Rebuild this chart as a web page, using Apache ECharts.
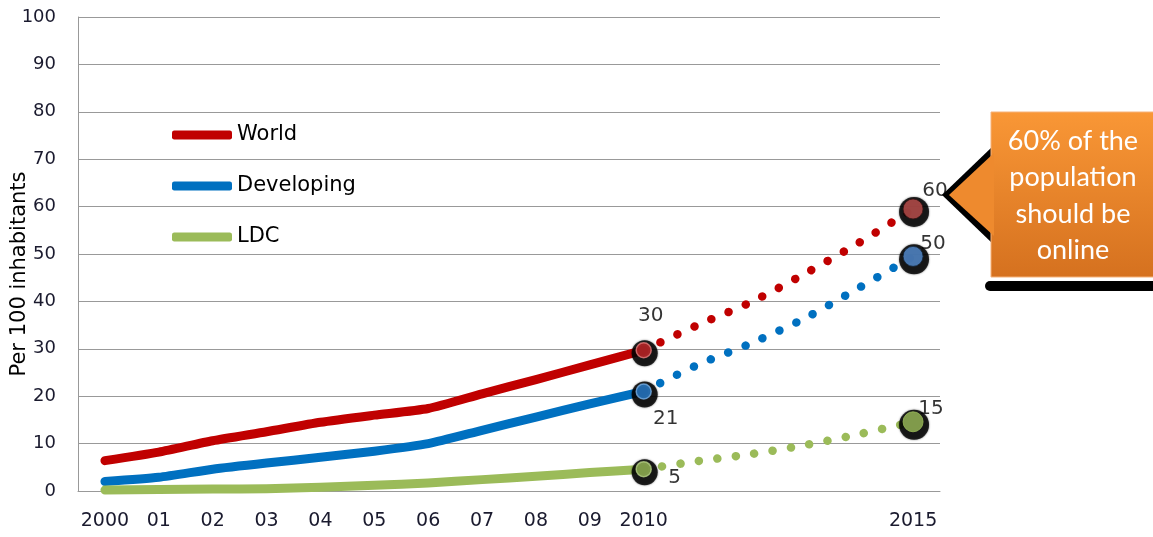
<!DOCTYPE html>
<html>
<head>
<meta charset="utf-8">
<script src="https://cdn.jsdelivr.net/npm/echarts@6/dist/echarts.min.js"></script>
<style>
html,body{margin:0;padding:0;background:#fff;}
#chart{width:1153px;height:537px;}
</style>
</head>
<body>
<div id="chart"></div>
<script>
// ---- data ----
const categories = ['2000','2001','2002','2003','2004','2005','2006','2007','2008','2009','2010','2011','2012','2013','2014','2015'];
const tickLabels = ['2000','01','02','03','04','05','06','07','08','09','2010','','','','','2015'];
const histYears = ['2000','2001','2002','2003','2004','2005','2006','2007','2008','2009','2010'];
const projYears = ['2010','2011','2012','2013','2014','2015'];
const worldHist = [6.4, 8.2, 10.6, 12.5, 14.5, 16.0, 17.4, 20.5, 23.5, 26.6, 29.7];
const developingHist = [2.0, 2.9, 4.6, 5.9, 7.1, 8.4, 10.0, 12.8, 15.6, 18.4, 21.0];
const ldcHist = [0.2, 0.3, 0.4, 0.5, 0.8, 1.2, 1.7, 2.4, 3.1, 3.9, 4.6];
const worldProj = [29.7, 35.0, 39.9, 45.9, 52.4, 59.5];
const developingProj = [21.0, 26.6, 31.2, 36.5, 42.9, 49.5];
const ldcProj = [4.6, 6.3, 7.8, 9.7, 12.0, 14.6];
const markerYears = ['2010', '2015'];
const worldLabels = ['30', '60'];
const developingLabels = ['21', '50'];
const ldcLabels = ['5', '15'];
const seriesNames = ['World', 'Developing', 'LDC'];
const calloutLines = ['60% of the', 'population', 'should be', 'online'];

// ---- styles ----
const FONT = 'DejaVu Sans';
const lineColors = ['#c00000', '#0070c0', '#9bbb59'];
const marker2010 = [
  {fill: '#c8282a', border: '#e57c7c'},
  {fill: '#2a7fcf', border: '#78aee2'},
  {fill: '#9bbb59', border: '#b5cf85'}
];
const marker2015 = [
  {fill: '#c0504d', border: '#3a1414'},
  {fill: '#558ed5', border: '#14263a'},
  {fill: '#9bbb59', border: '#9bbb59'}
];
const labelOffsets = [
  [[7, -34], [22, -18]],
  [[22, 27], [20, -13]],
  [[31, 9], [18, -13]]
];

const hist = [worldHist, developingHist, ldcHist];
const proj = [worldProj, developingProj, ldcProj];
const labels = [worldLabels, developingLabels, ldcLabels];

const series = [];
// solid historical lines
seriesNames.forEach((name, k) => {
  series.push({
    name: name,
    type: 'line',
    data: histYears.map((y, i) => [y, hist[k][i]]),
    showSymbol: false,
    smooth: 0.2,
    color: lineColors[k],
    lineStyle: {width: 9, color: lineColors[k], cap: 'round', join: 'round'},
    z: 2
  });
});
// dotted projections
seriesNames.forEach((name, k) => {
  series.push({
    name: name + ' projection',
    type: 'line',
    data: projYears.map((y, i) => [y, proj[k][i]]),
    showSymbol: false,
    smooth: 0.3,
    color: lineColors[k],
    lineStyle: {width: 8.5, color: lineColors[k], type: [0.1, 18.5], cap: 'round'},
    z: 2
  });
});
// black "shadow" circles
seriesNames.forEach((name, k) => {
  const vals = [hist[k][hist[k].length - 1], proj[k][proj[k].length - 1]];
  series.push({
    name: name + ' shadow',
    type: 'scatter',
    data: markerYears.map((y, i) => [y, vals[i]]),
    symbolSize: (v, p) => p.dataIndex === 0 ? 26 : 30,
    symbolOffset: [1, 3],
    itemStyle: {color: '#000', shadowBlur: 2, shadowColor: 'rgba(0,0,0,0.7)'},
    z: 5
  });
});
// coloured markers with value labels
seriesNames.forEach((name, k) => {
  const vals = [hist[k][hist[k].length - 1], proj[k][proj[k].length - 1]];
  series.push({
    name: name + ' marker',
    type: 'scatter',
    data: markerYears.map((y, i) => {
      const st = i === 0 ? marker2010[k] : marker2015[k];
      return {
        value: [y, vals[i]],
        itemStyle: {color: st.fill, borderColor: st.border, borderWidth: i === 0 ? 1.5 : 1},
        label: {offset: labelOffsets[k][i], formatter: labels[k][i]}
      };
    }),
    symbolSize: (v, p) => p.dataIndex === 0 ? 15 : 20,
    label: {show: true, position: 'inside', fontFamily: FONT, fontSize: 20, color: '#000', textBorderWidth: 0},
    z: 6
  });
});

const chart = echarts.init(document.getElementById('chart'), null, {renderer: 'canvas'});
chart.setOption({
  animation: false,
  backgroundColor: '#fff',
  grid: {left: 78, right: 213, top: 17, bottom: 46, containLabel: false, outerBoundsMode: 'none'},
  legend: {
    data: seriesNames,
    orient: 'vertical',
    left: 172,
    top: 124,
    padding: 0,
    itemWidth: 60,
    itemHeight: 9,
    itemGap: 29,
    icon: 'roundRect',
    textStyle: {fontFamily: FONT, fontSize: 21, color: '#000', lineHeight: 22}
  },
  xAxis: {
    type: 'category',
    data: categories,
    boundaryGap: true,
    axisLine: {show: true, lineStyle: {color: '#999', width: 1}},
    axisTick: {show: false},
    axisLabel: {
      interval: 0,
      margin: 21,
      fontFamily: FONT,
      fontSize: 19,
      color: '#1a1a2e',
      formatter: (v, i) => tickLabels[i]
    },
    splitLine: {show: false}
  },
  yAxis: {
    type: 'value',
    min: 0,
    max: 100,
    interval: 10,
    name: 'Per 100 inhabitants',
    nameLocation: 'middle',
    nameRotate: 90,
    nameGap: 48,
    nameMoveOverlap: false,
    nameTextStyle: {fontFamily: FONT, fontSize: 21, color: '#000', padding: [0, 40, 0, 0]},
    axisLine: {show: true, lineStyle: {color: '#999', width: 1}},
    axisTick: {show: false},
    axisLabel: {margin: 22, fontFamily: FONT, fontSize: 18, color: '#1a1a2e'},
    splitLine: {show: true, lineStyle: {color: '#999', width: 1}}
  },
  graphic: [
    {type: 'rect', shape: {x: 985, y: 281, width: 175, height: 10, r: 5}, style: {fill: '#000'}, z: 10},
    {type: 'polygon', shape: {points: [[992, 147], [942, 195], [992, 243]]}, style: {fill: '#000'}, z: 10},
    {type: 'rect', shape: {x: 991, y: 112, width: 165, height: 165},
      style: {
        fill: new echarts.graphic.LinearGradient(0, 0, 0, 1, [
          {offset: 0, color: '#f99736'},
          {offset: 1, color: '#d5711f'}
        ]),
        stroke: '#f6b27a', lineWidth: 1
      }, z: 11},
    {type: 'polygon', shape: {points: [[994, 153], [949, 195], [994, 236]]},
      style: {fill: '#ee8a2e'}, z: 12},
    {type: 'text', left: 1073 - 80, top: 123, z: 13,
      style: {
        text: calloutLines.join('\n'),
        width: 160,
        fill: '#fff',
        font: '27px Lato',
        lineHeight: 36.5,
        align: 'center',
        x: 80,
        textAlign: 'center'
      }}
  ],
  series: series
});
</script>
</body>
</html>
